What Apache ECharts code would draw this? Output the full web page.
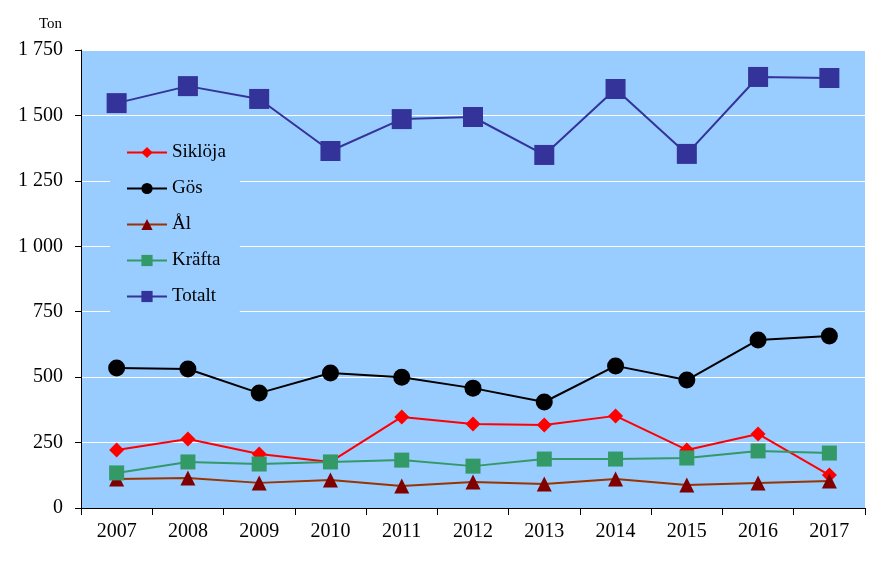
<!DOCTYPE html>
<html><head><meta charset="utf-8">
<script src="https://cdn.jsdelivr.net/npm/echarts@6/dist/echarts.min.js"></script>
<style>html,body{margin:0;padding:0;background:#fff}#c{width:895px;height:578px}</style>
</head><body><div id="c"></div>
<script>
const years = ['2007','2008','2009','2010','2011','2012','2013','2014','2015','2016','2017'];
const siklojaVals = [222, 264, 206, 176, 348, 321, 317, 352, 222, 283, 126];
const gosVals = [535, 531, 439, 516, 500, 458, 405, 543, 489, 642, 657];
const alVals = [111, 115, 96, 107, 84, 99, 92, 111, 88, 96, 103];
const kraftaVals = [134, 176, 168, 176, 183, 160, 187, 187, 191, 218, 210];
const totaltVals = [1547, 1612, 1563, 1364, 1486, 1494, 1349, 1601, 1353, 1647, 1643];
const yTicks = {min: 0, max: 1750, interval: 250};
const unitLabel = 'Ton';

const FONT = '"Liberation Serif", "Times New Roman", serif';
const chart = echarts.init(document.getElementById('c'));
function mk(name, data, color, mColor, symbol, size) {
  return {
    name, type: 'line', data, symbol, symbolSize: size,
    lineStyle: {color, width: 2},
    itemStyle: {color: mColor, borderWidth: 0},
    emphasis: {disabled: true}, animation: false
  };
}
chart.setOption({
  animation: false,
  title: {text: unitLabel, left: 34, top: 12, textStyle: {fontFamily: FONT, fontSize: 15, fontWeight: 'normal', color: '#000'}},
  grid: {left: 81, right: 30, top: 50, bottom: 70, show: true, backgroundColor: '#99CCFF', borderWidth: 0},
  legend: {
    orient: 'vertical', left: 110, top: 122,
    backgroundColor: '#99CCFF', padding: [21, 14, 19, 16],
    itemWidth: 40, itemHeight: 14, itemGap: 17,
    textStyle: {fontFamily: FONT, fontSize: 19, color: '#000', lineHeight: 19},
    data: ['Siklöja', 'Gös', 'Ål', 'Kräfta', 'Totalt']
  },
  xAxis: {
    type: 'category', data: years, boundaryGap: true,
    axisLine: {lineStyle: {color: '#000', width: 1}},
    axisTick: {show: true, length: 7, lineStyle: {color: '#000'}, alignWithLabel: false},
    axisLabel: {fontFamily: FONT, fontSize: 20, color: '#000', margin: 14},
    splitLine: {show: false}
  },
  yAxis: {
    type: 'value', min: yTicks.min, max: yTicks.max, interval: yTicks.interval,
    axisLine: {show: true, lineStyle: {color: '#000', width: 1}},
    axisTick: {show: true, length: 6, lineStyle: {color: '#000'}},
    axisLabel: {fontFamily: FONT, fontSize: 20, color: '#000', margin: 18,
      formatter: v => String(v).replace(/\B(?=(\d{3})+(?!\d))/g, ' ')},
    splitLine: {show: true, lineStyle: {color: '#fff', width: 1}}
  },
  series: [
    mk('Siklöja', siklojaVals, '#FF0000', '#FF0000', 'diamond', 15),
    mk('Gös', gosVals, '#000000', '#000000', 'circle', 17),
    mk('Ål', alVals, '#993300', '#800000', 'triangle', 15),
    mk('Kräfta', kraftaVals, '#339966', '#339966', 'rect', 15),
    mk('Totalt', totaltVals, '#333399', '#333399', 'rect', 20)
  ]
});
</script></body></html>
